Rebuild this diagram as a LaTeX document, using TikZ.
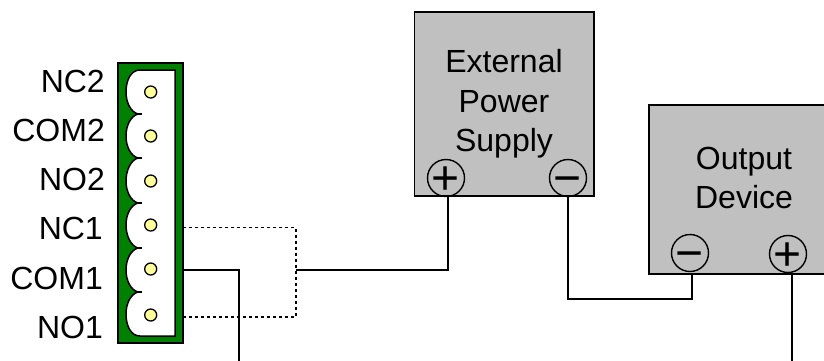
\documentclass[tikz,border=0pt]{standalone}
\usepackage{fontspec}
\setmainfont{Liberation Sans}
\usepackage{tikz}
\definecolor{terminalgreen}{RGB}{0,128,0}
\definecolor{pinyellow}{RGB}{255,255,153}
\definecolor{boxgrey}{RGB}{192,192,192}
\newcommand{\polesign}[1]{\raisebox{-16pt}[0pt][0pt]{#1}}
\tikzstyle{supply} = [rectangle, anchor=north west, inner sep=0pt, outer sep=0pt, draw=black, line width=1.5pt, fill=boxgrey]
\tikzstyle{block} = [rectangle, anchor=north west, inner sep=0pt, outer sep=0pt, draw=black, line width=1.5pt, fill=terminalgreen]
\tikzstyle{housing} = [draw=black, line width=1.5pt, fill=white]
\tikzstyle{pin} = [circle, minimum size=12pt, inner sep=0pt, draw=black, line width=1.3pt, fill=pinyellow]
\tikzstyle{pole} = [circle, minimum size=37pt, inner sep=0pt, outer sep=0pt, draw=black, line width=1.4pt, font=\fontsize{48}{48}\selectfont]
\tikzstyle{title} = [align=center, inner sep=0pt, font=\fontsize{32}{39.7}\selectfont]
\tikzstyle{contact} = [anchor=base east, inner sep=0pt, font=\fontsize{32}{32}\selectfont]
\tikzstyle{edge} = [line width=1.4pt]
\tikzstyle{edgeopen} = [line width=1.4pt, dash pattern=on 3pt off 3pt]

\begin{document}
\begin{tikzpicture}[x=1pt, y=-1pt]

\useasboundingbox (0,0) rectangle (824,360);
\clip (0,0) rectangle (824,360);

\node (term) [block, minimum width=65pt, minimum height=280pt] at (118,63) {};
\draw [housing] (175,70) -- (140,70)
  .. controls (131,70) and (126,80) .. (126,92) .. controls (126,103) and (131,112) .. (138,114)
  .. controls (131,116) and (126,125) .. (126,136) .. controls (126,147) and (131,156) .. (138,158)
  .. controls (131,160) and (126,170) .. (126,181) .. controls (126,192) and (131,201) .. (138,203)
  .. controls (131,205) and (126,214) .. (126,225) .. controls (126,236) and (131,246) .. (138,248)
  .. controls (131,250) and (126,259) .. (126,270) .. controls (126,281) and (131,290) .. (138,292)
  .. controls (131,294) and (126,303) .. (126,314) .. controls (126,326) and (131,336) .. (140,336)
  -- (175,336) -- cycle;
\draw [edge] (138,114) -- (142,114);
\draw [edge] (138,158) -- (142,158);
\draw [edge] (138,203) -- (142,203);
\draw [edge] (138,248) -- (142,248);
\draw [edge] (138,292) -- (142,292);

\node (pin1) [pin] at (150.7,92) {};
\node (pin2) [pin] at (150.7,136) {};
\node (pin3) [pin] at (150.7,181) {};
\node (pin4) [pin] at (150.7,225) {};
\node (pin5) [pin] at (150.7,269) {};
\node (pin6) [pin] at (150.7,315) {};

\node (nc2) [contact] at (105,92) {NC2};
\node (com2) [contact] at (105,141) {COM2};
\node (no2) [contact] at (105,190) {NO2};
\node (nc1) [contact] at (103,239) {NC1};
\node (com1) [contact] at (103,289) {COM1};
\node (no1) [contact] at (103,338) {NO1};

\node (power) [supply, minimum width=179.5pt, minimum height=184pt] at (414.5,12) {};
\node (powertext) [title] at (504,104) {External\\Power\\Supply};
\node (powerplus) [pole] at (446,178) {\polesign{+}};
\node (powerminus) [pole] at (568,178) {\polesign{−}};

\node (output) [supply, minimum width=190pt, minimum height=169pt] at (649,105) {};
\node (outputtext) [title] at (744,178) {Output\\Device};
\node (outputminus) [pole] at (690,253) {\polesign{−}};
\node (outputplus) [pole] at (788,254) {\polesign{+}};

\coordinate (nc1out) at (183,227.5);
\coordinate (no1out) at (183,317);
\coordinate (com1out) at (183,270);
\coordinate (com1end) at (239,362);
\coordinate (joint) at (296,270);
\coordinate (plusdrop) at (448,196);
\coordinate (minusjog) at (568,299);
\coordinate (minusdrop) at (692,274);
\coordinate (plusout) at (792,274);
\coordinate (plusend) at (792,362);

\draw [edgeopen] (nc1out) -| (joint);
\draw [edgeopen] (no1out) -| (joint);
\draw [edge] (com1out) -| (com1end);
\draw [edge] (joint) -| (plusdrop);
\draw [edge] (powerminus.south) -- (minusjog) -| (minusdrop);
\draw [edge] (plusout) -- (plusend);

\end{tikzpicture}
\end{document}
